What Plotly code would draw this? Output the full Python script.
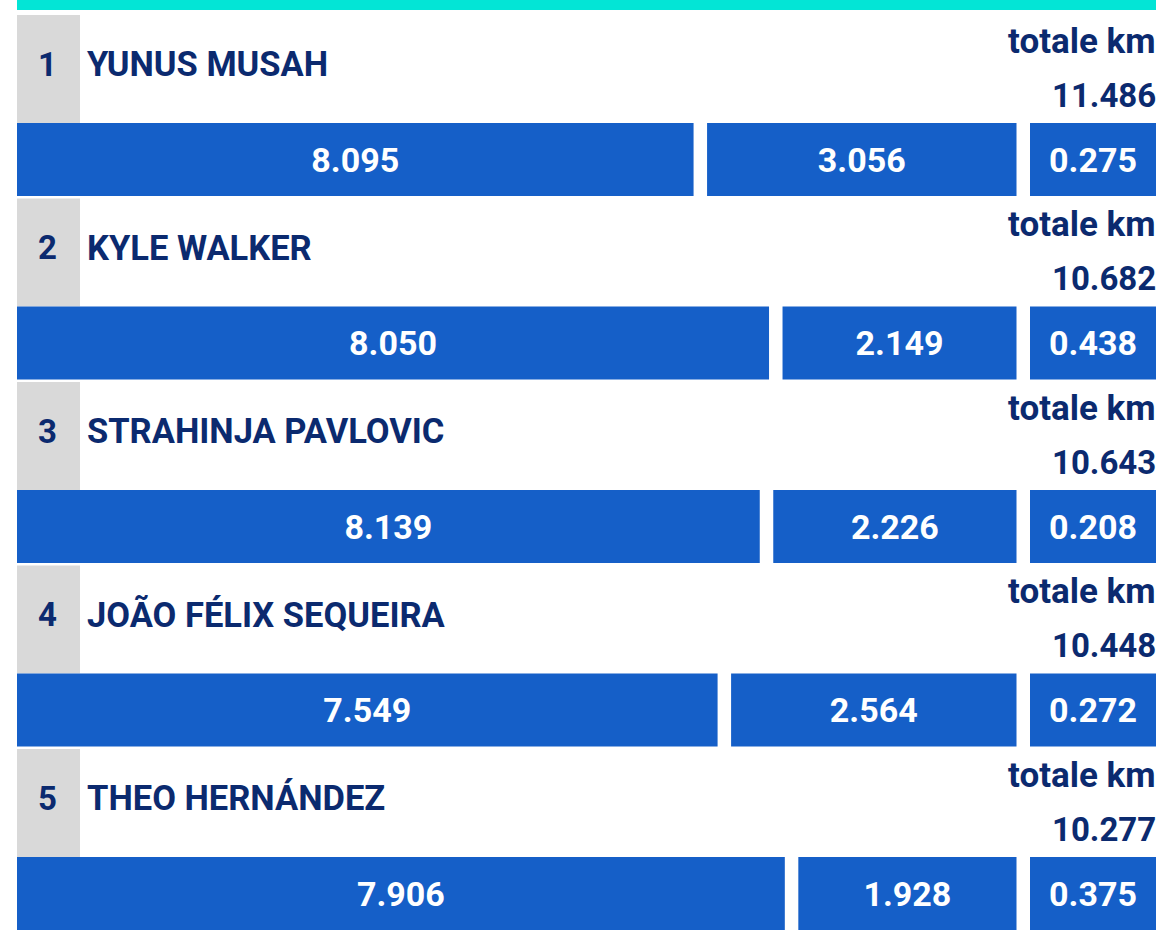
import plotly.graph_objects as go

# ---- data ----
ranks = [1, 2, 3, 4, 5]
players = ["YUNUS MUSAH", "KYLE WALKER", "STRAHINJA PAVLOVIC",
           "JOÃO FÉLIX SEQUEIRA", "THEO HERNÁNDEZ"]
total_km = [11.486, 10.682, 10.643, 10.448, 10.277]
seg1_km = [8.095, 8.050, 8.139, 7.549, 7.906]
seg2_km = [3.056, 2.149, 2.226, 2.564, 1.928]
seg3_km = [0.275, 0.438, 0.208, 0.272, 0.375]
total_label = "totale km"

# ---- layout constants (pixels) ----
W, H = 1170, 952
LEFT, RIGHT = 17, 1156
GAP = 13.5
SEG3_W = 126
SCALE = 1163
ROW_TOP0 = 123
PITCH = 183.5
BAR_H = 73
HEAD_H = 108

BLUE = "#155FC8"
NAVY = "#0B2A6F"
GREY = "#D9D9D9"
TEAL = "#03E5D6"
FONT = "Roboto"

fmt = lambda v: f"{v:.3f}"

tops = [ROW_TOP0 + i * PITCH for i in range(len(players))]
centers = [t + BAR_H / 2 for t in tops]

s3_base = [RIGHT - SEG3_W for _ in players]
s3_len = [SEG3_W for _ in players]
s2_len = [v / t * SCALE for v, t in zip(seg2_km, total_km)]
s2_base = [b - GAP - l for b, l in zip(s3_base, s2_len)]
s1_base = [LEFT for _ in players]
s1_len = [b - GAP - LEFT for b in s2_base]

fig = go.Figure()
for base, length, vals in [(s1_base, s1_len, seg1_km),
                           (s2_base, s2_len, seg2_km),
                           (s3_base, s3_len, seg3_km)]:
    fig.add_trace(go.Bar(
        orientation="h", y=centers, x=length, base=base, width=BAR_H,
        marker=dict(color=BLUE, line=dict(width=0)),
        text=[fmt(v) for v in vals], textposition="inside",
        insidetextanchor="middle", constraintext="none",
        textfont=dict(family=FONT, size=34, color="white", weight="bold"),
        hoverinfo="skip", showlegend=False,
    ))

shapes = [dict(type="rect", x0=LEFT, x1=RIGHT, y0=0, y1=10,
               fillcolor=TEAL, line=dict(width=0), layer="below")]
ann = []
for i, t in enumerate(tops):
    shapes.append(dict(type="rect", x0=LEFT, x1=80, y0=t - HEAD_H, y1=t,
                       fillcolor=GREY, line=dict(width=0), layer="below"))
    ann.append(dict(x=47, y=t - 59, text=str(ranks[i]), showarrow=False,
                    xanchor="center", yanchor="middle",
                    font=dict(family=FONT, size=33, color=NAVY, weight="bold")))
    ann.append(dict(x=85, y=t - 59, text=players[i], showarrow=False,
                    xanchor="left", yanchor="middle",
                    font=dict(family=FONT, size=34.5, color=NAVY, weight="bold")))
    ann.append(dict(x=RIGHT + 2, y=t - 82, text=total_label, showarrow=False,
                    xanchor="right", yanchor="middle",
                    font=dict(family=FONT, size=35, color=NAVY, weight="bold")))
    ann.append(dict(x=RIGHT + 2, y=t - 28, text=fmt(total_km[i]), showarrow=False,
                    xanchor="right", yanchor="middle",
                    font=dict(family=FONT, size=33, color=NAVY, weight="bold")))

fig.update_layout(
    width=W, height=H, margin=dict(l=0, r=0, t=0, b=0),
    paper_bgcolor="white", plot_bgcolor="white", barmode="overlay",
    xaxis=dict(range=[0, W], visible=False, fixedrange=True),
    yaxis=dict(range=[H, 0], visible=False, fixedrange=True),
    shapes=shapes, annotations=ann,
)
fig.write_html("out.html")
